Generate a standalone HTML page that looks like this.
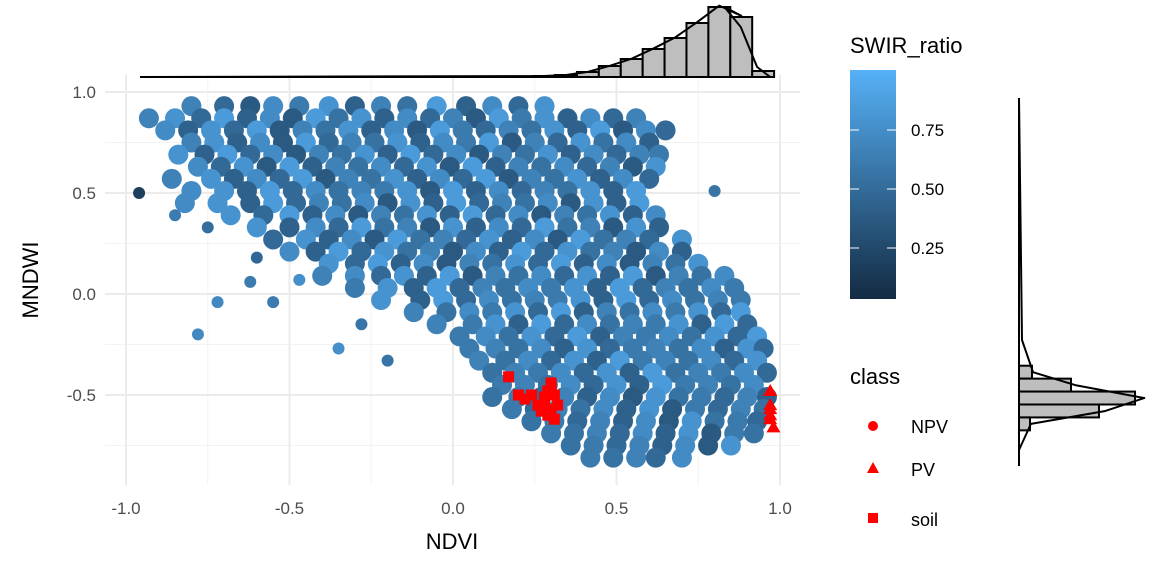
<!DOCTYPE html>
<html><head><meta charset="utf-8"><style>
body{margin:0;background:#fff;}
svg{display:block;font-family:"Liberation Sans",sans-serif;}
</style></head><body>
<svg id="chart" width="1152" height="576" viewBox="0 0 1152 576">
<g id="grid"></g>
<g id="pts"></g>
<g id="cls"></g>
<g id="axes"></g>
<g id="tophist"></g>
<g id="righthist"></g>
<text x="452" y="549" font-size="22" text-anchor="middle" fill="#000">NDVI</text>
<text transform="translate(38,280) rotate(-90)" font-size="22" text-anchor="middle" fill="#000">MNDWI</text>
<g>
<text x="850" y="53" font-size="22" fill="#000">SWIR_ratio</text>
<defs><linearGradient id="cb" x1="0" y1="1" x2="0" y2="0"><stop offset="0" stop-color="#132B43"/><stop offset="1" stop-color="#56B1F7"/></linearGradient></defs>
<rect x="850" y="70" width="46" height="229" fill="url(#cb)"/>
<g id="cbticks"></g>
</g>
<g>
<text x="850" y="384" font-size="22" fill="#000">class</text>
<circle cx="873" cy="426" r="5" fill="#f00"/>
<text x="911" y="433" font-size="18">NPV</text>
<polygon points="873,462 879,473 867,473" fill="#f00"/>
<text x="911" y="476" font-size="18">PV</text>
<rect x="868" y="513" width="10" height="10" fill="#f00"/>
<text x="911" y="526" font-size="18">soil</text>
</g>
</svg>
<script>
const xTicks=[-1,-0.5,0,0.5,1];
const xTickLabels=["-1.0","-0.5","0.0","0.5","1.0"];
const yTicks=[1,0.5,0,-0.5];
const yTickLabels=["1.0","0.5","0.0","-0.5"];
const rowMndwi=[0.93,0.87,0.81,0.75,0.69,0.63,0.57,0.51,0.45,0.39,0.33,0.27,0.21,0.15,0.09,0.03,-0.03,-0.09,-0.15,-0.21,-0.27,-0.33,-0.39,-0.45,-0.51,-0.57,-0.63,-0.69,-0.75,-0.81];
const rowNdvi=[
[-0.8,-0.7,-0.62,-0.55,-0.47,-0.38,-0.3,-0.22,-0.14,-0.05,0.04,0.12,0.2,0.28],
[-0.93,-0.85,-0.77,-0.7,-0.63,-0.56,-0.49,-0.42,-0.35,-0.28,-0.21,-0.14,-0.07,0,0.07,0.14,0.21,0.28,0.35,0.42,0.49,0.56],
[-0.88,-0.81,-0.74,-0.67,-0.6,-0.53,-0.46,-0.39,-0.32,-0.25,-0.18,-0.11,-0.04,0.03,0.1,0.17,0.24,0.31,0.38,0.45,0.52,0.59,0.65],
[-0.8,-0.73,-0.66,-0.59,-0.52,-0.45,-0.38,-0.31,-0.24,-0.17,-0.1,-0.03,0.04,0.11,0.18,0.25,0.32,0.39,0.46,0.53,0.6],
[-0.84,-0.76,-0.69,-0.62,-0.55,-0.48,-0.41,-0.34,-0.27,-0.2,-0.13,-0.06,0.01,0.08,0.15,0.22,0.29,0.36,0.43,0.5,0.57,0.63],
[-0.78,-0.71,-0.64,-0.57,-0.5,-0.43,-0.36,-0.29,-0.22,-0.15,-0.08,-0.01,0.06,0.13,0.2,0.27,0.34,0.41,0.48,0.55,0.62],
[-0.86,-0.74,-0.67,-0.6,-0.53,-0.46,-0.39,-0.32,-0.25,-0.18,-0.11,-0.04,0.03,0.1,0.17,0.24,0.31,0.38,0.45,0.52,0.6],
[-0.8,-0.7,-0.63,-0.56,-0.49,-0.42,-0.35,-0.28,-0.21,-0.14,-0.07,0,0.07,0.14,0.21,0.28,0.35,0.42,0.49,0.56],
[-0.82,-0.72,-0.62,-0.55,-0.48,-0.41,-0.34,-0.27,-0.2,-0.13,-0.06,0.01,0.08,0.15,0.22,0.29,0.36,0.43,0.5,0.57],
[-0.68,-0.58,-0.5,-0.43,-0.36,-0.29,-0.22,-0.15,-0.08,-0.01,0.06,0.13,0.2,0.27,0.34,0.41,0.48,0.55,0.62],
[-0.6,-0.5,-0.42,-0.35,-0.28,-0.21,-0.14,-0.07,0,0.07,0.14,0.21,0.28,0.35,0.42,0.49,0.56,0.63],
[-0.55,-0.45,-0.38,-0.31,-0.24,-0.17,-0.1,-0.03,0.04,0.11,0.18,0.25,0.32,0.39,0.46,0.53,0.6,0.7],
[-0.5,-0.42,-0.35,-0.28,-0.21,-0.14,-0.07,0,0.07,0.14,0.21,0.28,0.35,0.42,0.49,0.56,0.63,0.7],
[-0.38,-0.3,-0.23,-0.16,-0.09,-0.02,0.05,0.12,0.19,0.26,0.33,0.4,0.47,0.54,0.61,0.68,0.75],
[-0.4,-0.3,-0.22,-0.15,-0.08,-0.01,0.06,0.13,0.2,0.27,0.34,0.41,0.48,0.55,0.62,0.69,0.76,0.83],
[-0.3,-0.2,-0.12,-0.05,0.02,0.09,0.16,0.23,0.3,0.37,0.44,0.51,0.58,0.65,0.72,0.79,0.86],
[-0.22,-0.1,-0.03,0.04,0.11,0.18,0.25,0.32,0.39,0.46,0.53,0.6,0.67,0.74,0.81,0.88],
[-0.12,-0.02,0.05,0.12,0.19,0.26,0.33,0.4,0.47,0.54,0.61,0.68,0.75,0.82,0.88],
[-0.05,0.06,0.13,0.2,0.27,0.34,0.41,0.48,0.55,0.62,0.69,0.76,0.83,0.9],
[0.02,0.1,0.17,0.24,0.31,0.38,0.45,0.52,0.59,0.66,0.73,0.8,0.87,0.93],
[0.05,0.13,0.2,0.27,0.34,0.41,0.48,0.55,0.62,0.69,0.76,0.83,0.9,0.95],
[0.08,0.16,0.23,0.3,0.37,0.44,0.51,0.58,0.65,0.72,0.79,0.86,0.93],
[0.12,0.19,0.26,0.33,0.4,0.47,0.54,0.61,0.68,0.75,0.82,0.89,0.96],
[0.15,0.22,0.29,0.36,0.43,0.5,0.57,0.64,0.71,0.78,0.85,0.92],
[0.12,0.2,0.27,0.34,0.41,0.48,0.55,0.62,0.69,0.76,0.83,0.9,0.96],
[0.18,0.25,0.32,0.39,0.46,0.53,0.6,0.67,0.74,0.81,0.88,0.95],
[0.24,0.31,0.38,0.45,0.52,0.59,0.66,0.73,0.8,0.87,0.93],
[0.3,0.37,0.44,0.51,0.58,0.65,0.72,0.79,0.86,0.92],
[0.36,0.43,0.5,0.57,0.64,0.71,0.78,0.85],
[0.42,0.49,0.56,0.62,0.7]];
const rowSwir=[
"63175826492738","683927194827361958273619","72839164827195364829173628","6827193648275916384726","8293716482937164827365492","7381926473819264736182","6827391648273916482737","7829374658192736482937","7829364718293647182937","8392716482937164827392",
"8273946182739461827375","3827194638271946382735","7293846172938461729384","8392716483927164839275","6738291647382916473829","5829364758293647582935","8293746582937465829375","6475839264758392647583","6582937465829374658295","5748392657483926574835",
"5647283564728356472835","6473829564738295647385","4657382946573829465738","5647382956473829564738","4536271845362718453627","5364728153647281536472","4536271845362718453627","5463728154637281546372","4536271845362718","5463728154637"];
const outNdvi=[-0.96,0.8,-0.85,-0.75,-0.6,-0.72,-0.55,-0.28,-0.78,-0.35,-0.2,-0.12,-0.62,-0.47];
const outMndwi=[0.5,0.51,0.39,0.33,0.18,-0.04,-0.04,-0.15,-0.2,-0.27,-0.33,-0.1,0.06,0.07];
const outSwir=[0.15,0.55,0.6,0.5,0.45,0.7,0.6,0.55,0.7,0.75,0.55,0.5,0.6,0.75];
const soilNdvi=[0.17,0.2,0.22,0.24,0.26,0.27,0.28,0.29,0.3,0.31,0.3,0.29,0.32,0.31,0.28,0.3];
const soilMndwi=[-0.41,-0.5,-0.52,-0.5,-0.55,-0.58,-0.53,-0.48,-0.45,-0.5,-0.57,-0.6,-0.55,-0.62,-0.51,-0.44];
const pvNdvi=[0.97,0.97,0.97,0.97,0.98,0.97];
const pvMndwi=[-0.48,-0.55,-0.57,-0.6,-0.66,-0.62];
const topBinStart=[0.245,0.312,0.379,0.446,0.513,0.58,0.647,0.714,0.781,0.848,0.915];
const topBinCount=[1,2,5,11,18,28,39,54,70,60,6];
const rightBinStart=[-0.355,-0.419,-0.483,-0.547,-0.611];
const rightBinCount=[13,52,116,80,11];
const cbTicks=[0.25,0.5,0.75];

const NS="http://www.w3.org/2000/svg";
const sx=v=>126+(v+1)*327;
const sy=v=>294-v*202;
const cbY=v=>307-v*236;
function mk(tag,attrs,parent){const e=document.createElementNS(NS,tag);for(const k in attrs)e.setAttribute(k,attrs[k]);parent.appendChild(e);return e;}
function col(v){const a=[19,43,67],b=[86,177,247];v=Math.max(0,Math.min(1,v));return `rgb(${a.map((c,i)=>Math.round(c+(b[i]-c)*v)).join(",")})`;}
const grid=document.getElementById('grid');
[-0.75,-0.25,0.25,0.75].forEach(v=>{const l=mk('line',{x1:sx(v),x2:sx(v),y1:75,y2:485,stroke:'#f3f3f3','stroke-width':1},grid);

});
[0.75,0.25,-0.25,-0.75].forEach(v=>{const l=mk('line',{x1:105,x2:800,y1:sy(v),y2:sy(v),stroke:'#f3f3f3','stroke-width':1},grid);

});
const axes=document.getElementById('axes');
xTicks.forEach((v,i)=>{const l=mk('line',{x1:sx(v),x2:sx(v),y1:75,y2:485,stroke:'#ebebeb','stroke-width':2},grid);


const t=mk('text',{x:sx(v),y:514,'font-size':17,fill:'#4d4d4d','text-anchor':'middle'},axes);t.textContent=xTickLabels[i];

});
yTicks.forEach((v,i)=>{const l=mk('line',{x1:105,x2:800,y1:sy(v),y2:sy(v),stroke:'#ebebeb','stroke-width':2},grid);


const t=mk('text',{x:96,y:sy(v)+6,'font-size':17,fill:'#4d4d4d','text-anchor':'end'},axes);t.textContent=yTickLabels[i];

});
const pts=document.getElementById('pts');
outNdvi.forEach((x,i)=>{const c=mk('circle',{cx:sx(x),cy:sy(outMndwi[i]),r:6,fill:col(outSwir[i])},pts);

});
rowMndwi.forEach((y,r)=>{rowNdvi[r].forEach((x,i)=>{const d=+(rowSwir[r][i]||5);
const c=mk('circle',{cx:sx(x),cy:sy(y),r:10,fill:col(0.28+d/10*0.62)},pts);

});});
const cls=document.getElementById('cls');
soilNdvi.forEach((x,i)=>{const s=mk('rect',{x:sx(x)-5.5,y:sy(soilMndwi[i])-5.5,width:11,height:11,fill:'#f00'},cls);

});
pvNdvi.forEach((x,i)=>{const X=sx(x),Y=sy(pvMndwi[i]);const p=mk('polygon',{points:`${X},${Y-7} ${X+7},${Y+5} ${X-7},${Y+5}`,fill:'#f00'},cls);

});
const th=document.getElementById('tophist');const base=77,binW=0.067,hs=1.0;
mk('line',{x1:140,x2:sx(topBinStart[0]),y1:base,y2:base,stroke:'#000','stroke-width':2},th);
topBinStart.forEach((b,i)=>{const r=mk('rect',{x:sx(b),y:base-topBinCount[i]*hs,width:binW*327,height:topBinCount[i]*hs,fill:'#bebebe',stroke:'#000','stroke-width':2},th);

});
let dpath='M140,'+base;topBinStart.forEach((b,i)=>{if(i<topBinStart.length-1)dpath+=` L${sx(b+binW/2)},${base-topBinCount[i]*hs*1.02}`;});
dpath+=` L${sx(0.83)},${base-70} L${sx(0.88)},${base-50} L${sx(0.93)},${base-10} L${sx(0.97)},${base}`;
const dl=mk('path',{d:dpath,fill:'none',stroke:'#000','stroke-width':2,'stroke-linejoin':'round'},th);


const rh=document.getElementById('righthist');const rb=1019,rs=1.0,rbw=0.064;
mk('line',{x1:rb,x2:rb,y1:98,y2:466,stroke:'#000','stroke-width':2},rh);
rightBinStart.forEach((b,i)=>{const r=mk('rect',{x:rb,y:sy(b),width:rightBinCount[i]*rs,height:rbw*202,fill:'#bebebe',stroke:'#000','stroke-width':2},rh);

});
let rp=`M${rb},98 L${rb+3},340`;rightBinStart.forEach((b,i)=>{rp+=` L${rb+rightBinCount[i]*rs*1.08},${sy(b)+rbw*101}`;});rp+=` L${rb},450`;
const rl=mk('path',{d:rp,fill:'none',stroke:'#000','stroke-width':2,'stroke-linejoin':'round'},rh);


const cbt=document.getElementById('cbticks');
cbTicks.forEach(v=>{const y=cbY(v);mk('line',{x1:850,x2:859,y1:y,y2:y,stroke:'#fff','stroke-width':1},cbt);mk('line',{x1:887,x2:896,y1:y,y2:y,stroke:'#fff','stroke-width':1},cbt);
const t=mk('text',{x:911,y:y+6,'font-size':17,fill:'#000'},cbt);t.textContent=v.toFixed(2);

});
</script>
</body></html>
